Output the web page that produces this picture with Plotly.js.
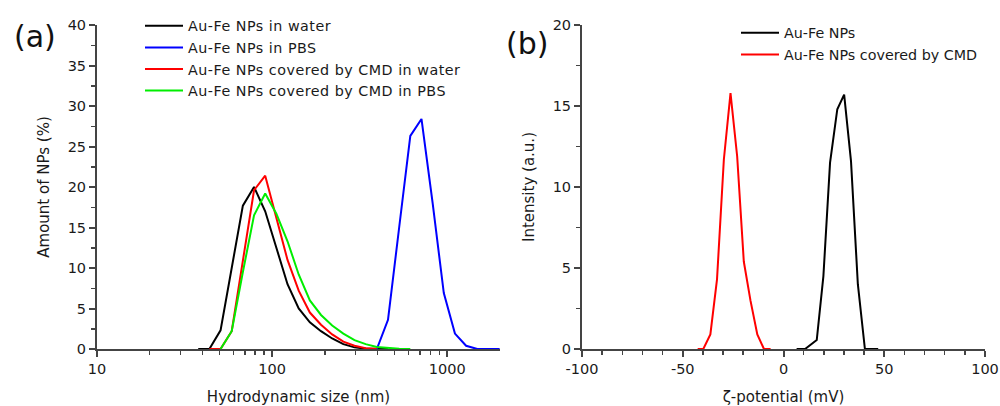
<!DOCTYPE html>
<html>
<head>
<meta charset="utf-8">
<script src="https://cdn.plot.ly/plotly-3.0.1.min.js"></script>
<style>html,body{margin:0;padding:0;background:#fff;}#chart{width:1000px;height:406px;}
.legendtext{letter-spacing:0.5px;}</style>
</head>
<body>
<div id="chart"></div>
<script>
// Panel (a): DLS size distributions (hydrodynamic size, nm)
const sizeBins = [37.84, 43.82, 50.75, 58.77, 68.06, 78.82, 91.28, 105.7, 122.4, 141.8, 164.2, 190.1, 220.2, 255.0, 295.3, 342.0, 396.1, 458.7, 531.2, 615.1, 712.4, 825.0, 955.4, 1106, 1281, 1484, 1718, 1990];
const waterNPs   = [0, 0, 2.3, 10, 17.7, 20.0, 17.0, 12.5, 8.0, 5.0, 3.3, 2.2, 1.3, 0.6, 0.2, 0.05, 0, 0, null, null, null, null, null, null, null, null, null, null];
const pbsNPs     = [null, null, null, null, null, null, null, null, null, null, null, null, null, null, null, null, 0, 3.6, 15.0, 26.3, 28.4, 18.0, 6.9, 1.9, 0.4, 0, 0, 0];
const cmdWater   = [null, 0, 0, 2.2, 11.0, 19.6, 21.4, 16.3, 11.0, 7.2, 4.5, 3.0, 1.8, 0.9, 0.4, 0.1, 0, null, null, null, null, null, null, null, null, null, null, null];
const cmdPBS     = [null, null, 0, 2.2, 9.5, 16.5, 19.2, 16.7, 13.3, 9.2, 6.0, 4.2, 2.9, 1.9, 1.1, 0.6, 0.25, 0.1, 0.02, 0, null, null, null, null, null, null, null, null];

// Panel (b): zeta potential distributions (mV)
const zetaNPs      = [6.5, 10.7, 16.5, 19.8, 23.1, 26.7, 30.1, 33.5, 36.9, 40.4, 47.0];
const zetaNPsInt   = [0, 0, 0.55, 4.5, 11.5, 14.8, 15.7, 11.6, 4.0, 0, 0];
const zetaCMD      = [-42.6, -39.8, -36.3, -33.0, -29.6, -26.3, -23.0, -19.7, -16.4, -13.0, -9.7, -6.4];
const zetaCMDInt   = [0, 0, 0.9, 4.3, 11.7, 15.8, 11.9, 5.4, 3.0, 0.9, 0, 0];

const seriesNames = ["Au-Fe NPs in water", "Au-Fe NPs in PBS", "Au-Fe NPs covered by CMD in water", "Au-Fe NPs covered by CMD in PBS"];
const zetaNames = ["Au-Fe NPs", "Au-Fe NPs covered by CMD"];

const sizeTicks = [10, 100, 1000];
const sizeTickText = ['10', '100', '1000'];
const sizeMinor = [20, 30, 40, 50, 60, 70, 80, 90, 200, 300, 400, 500, 600, 700, 800, 900];
const zetaTicks = [-100, -50, 0, 50, 100];
const zetaTickText = ['-100', '-50', '0', '50', '100'];

const FONT = "DejaVu Sans, Verdana, sans-serif";
const TXT = '#1a1a1a';
const lw = 2;
function tr(x, y, name, color, ax, leg) {
  return {x: x, y: y, name: name, type: 'scatter', mode: 'lines', line: {color: color, width: lw},
    xaxis: ax[0], yaxis: ax[1], legend: leg, cliponaxis: false, connectgaps: false};
}
const data = [
  tr(sizeBins, waterNPs, seriesNames[0], '#000000', ['x','y'], 'legend'),
  tr(sizeBins, pbsNPs, seriesNames[1], '#0000ff', ['x','y'], 'legend'),
  tr(sizeBins, cmdWater, seriesNames[2], '#ff0000', ['x','y'], 'legend'),
  tr(sizeBins, cmdPBS, seriesNames[3], '#00ee00', ['x','y'], 'legend'),
  tr(zetaNPs, zetaNPsInt, zetaNames[0], '#000000', ['x2','y2'], 'legend2'),
  tr(zetaCMD, zetaCMDInt, zetaNames[1], '#ff0000', ['x2','y2'], 'legend2')
];

const axBase = {
  showline: true, linecolor: '#444444', linewidth: 2,
  showgrid: false, zeroline: false, ticks: 'outside', ticklen: 6, tickwidth: 2, tickcolor: '#444444',
  tickfont: {family: FONT, size: 14.5, color: TXT}
};
const minorBase = {ticks: 'outside', ticklen: 4, tickwidth: 1.5, tickcolor: '#444444'};

const yDom = [1 - 349/406, 1 - 25/406];
const layout = {
  width: 1000, height: 406,
  margin: {l: 0, r: 0, t: 0, b: 0},
  paper_bgcolor: '#ffffff', plot_bgcolor: '#ffffff',
  font: {family: FONT, color: TXT},
  xaxis: Object.assign({}, axBase, {
    type: 'log', domain: [0.097, 0.5], range: [1, Math.log10(2000)], anchor: 'y',
    tickmode: 'array', tickvals: sizeTicks, ticktext: sizeTickText,
    minor: Object.assign({}, minorBase, {tickmode: 'array', tickvals: sizeMinor}),
    title: {text: 'Hydrodynamic size (nm)', font: {family: FONT, size: 15, color: TXT}, standoff: 18}
  }),
  yaxis: Object.assign({}, axBase, {
    domain: yDom, range: [0, 40], anchor: 'x', dtick: 5,
    minor: Object.assign({}, minorBase, {dtick: 2.5}),
    title: {text: 'Amount of NPs (%)', font: {family: FONT, size: 15, color: TXT}, standoff: 14}
  }),
  xaxis2: Object.assign({}, axBase, {
    domain: [0.582, 0.985], range: [-100, 100], anchor: 'y2',
    tickmode: 'array', tickvals: zetaTicks, ticktext: zetaTickText,
    minor: Object.assign({}, minorBase, {dtick: 10}),
    title: {text: 'ζ-potential (mV)', font: {family: FONT, size: 15, color: TXT}, standoff: 18}
  }),
  yaxis2: Object.assign({}, axBase, {
    domain: yDom, range: [0, 20], anchor: 'x2', dtick: 5,
    minor: Object.assign({}, minorBase, {dtick: 2.5}),
    title: {text: 'Intensity (a.u.)', font: {family: FONT, size: 15, color: TXT}, standoff: 14}
  }),
  legend: {x: 0.140, y: 1 - 10/406, xanchor: 'left', yanchor: 'top', bgcolor: 'rgba(0,0,0,0)',
    font: {family: FONT, size: 14.3, color: TXT}, tracegroupgap: 0, itemwidth: 38},
  legend2: {x: 0.736, y: 1 - 17/406, xanchor: 'left', yanchor: 'top', bgcolor: 'rgba(0,0,0,0)',
    font: {family: FONT, size: 14.3, color: TXT}, tracegroupgap: 0, itemwidth: 38},
  showlegend: true,
  annotations: [
    {text: '(a)', xref: 'paper', yref: 'paper', x: 0.012, y: 1 - 36/406, xanchor: 'left', yanchor: 'middle', showarrow: false, font: {family: FONT, size: 30, color: '#111'}},
    {text: '(b)', xref: 'paper', yref: 'paper', x: 0.504, y: 1 - 43/406, xanchor: 'left', yanchor: 'middle', showarrow: false, font: {family: FONT, size: 30, color: '#111'}}
  ]
};
Plotly.newPlot('chart', data, layout, {displayModeBar: false, staticPlot: true});
</script>
</body>
</html>
